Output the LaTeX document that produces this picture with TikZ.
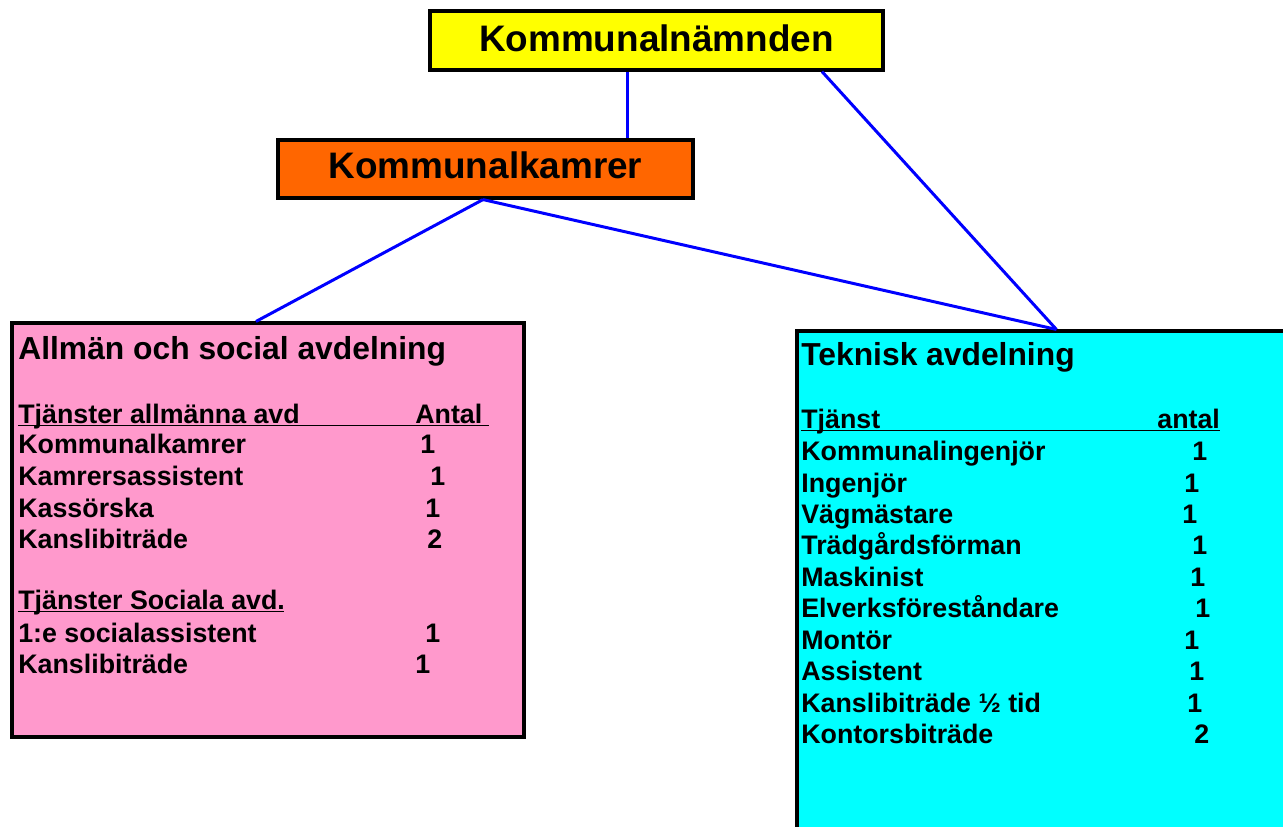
\documentclass[tikz,border=0pt]{standalone}
\usepackage{fontspec}
\setmainfont{Liberation Sans}
\definecolor{Gul}{RGB}{255,255,0}
\definecolor{Orange}{RGB}{255,102,0}
\definecolor{Rosa}{RGB}{255,153,204}
\definecolor{Turkos}{RGB}{0,255,255}
\tikzset{
  box/.style={draw=black, line width=1.8pt, inner sep=0pt},
  link/.style={draw=blue, line width=1.7pt},
  head/.style={font=\bfseries\fontsize{21}{25}\selectfont},
  avd/.style={anchor=base west, inner sep=0pt, font=\bfseries\fontsize{18.1}{22}\selectfont},
  rad/.style={anchor=base west, inner sep=0pt, font=\bfseries\fontsize{15.25}{18}\selectfont},
  understr/.style={line width=1.1pt}
}

\begin{document}
\begin{tikzpicture}[x=0.02cm, y=-0.02cm]
\clip (0,0) rectangle (1283,827);
%\node {\includegraphics{organisation.png}};
% boxes
\node[box, head, fill=Gul, minimum width=9.06cm, minimum height=1.18cm, text depth=0.08cm] (nmd) at (656.5,40.5) {Kommunalnämnden};
\node[box, head, fill=Orange, minimum width=8.3cm, minimum height=1.16cm, text depth=0.17cm] (kam) at (485.5,169) {Kommunalkamrer};
\node[box, fill=Rosa, minimum width=10.24cm, minimum height=8.28cm] (all) at (268,530) {};
\node[box, fill=Turkos, minimum width=11cm, minimum height=11cm] (tek) at (1072,606) {};

% lines
\draw[link] ([xshift=-0.59cm]nmd.south) -- ([xshift=-0.59cm]nmd.south |- kam.north);
\draw[link] ([xshift=3.31cm]nmd.south) -- ([xshift=5.22cm]tek.north west);
\draw[link] ([xshift=-0.05cm]kam.south) -- ([xshift=-0.24cm]all.north);
\draw[link] ([xshift=-0.05cm]kam.south) -- ([xshift=5.22cm]tek.north west);

% allman och social avdelning
\node[avd] (allT) at (18,359) {Allmän och social avdelning};
\node[rad] (allH) at (18,423) {Tjänster allmänna avd};
\node[rad] (allHn) at (415,423) {Antal};
\draw[understr] (18,425.5) -- (489,425.5);
\node[rad] (a1) at (18,453) {Kommunalkamrer};
\node[rad] (a1n) at (420,453) {1};
\node[rad] (a2) at (18,485) {Kamrersassistent};
\node[rad] (a2n) at (430,485) {1};
\node[rad] (a3) at (18,517) {Kassörska};
\node[rad] (a3n) at (425,517) {1};
\node[rad] (a4) at (18,548) {Kanslibiträde};
\node[rad] (a4n) at (427,548) {2};
\node[rad] (socH) at (18,609) {Tjänster Sociala avd.};
\draw[understr] (18,611.5) -- (284,611.5);
\node[rad] (s1) at (18,642) {1:e socialassistent};
\node[rad] (s1n) at (425,642) {1};
\node[rad] (s2) at (18,673) {Kanslibiträde};
\node[rad] (s2n) at (415,673) {1};

% teknisk avdelning
\node[avd] (tekT) at (801,365) {Teknisk avdelning};
\node[rad] (tekH) at (801,428) {Tjänst};
\node[rad] (tekHn) at (1157,428) {antal};
\draw[understr] (801,430.5) -- (1220,430.5);
\node[rad] (t1) at (801,460) {Kommunalingenjör};
\node[rad] (t1n) at (1192,460) {1};
\node[rad] (t2) at (801,492) {Ingenjör};
\node[rad] (t2n) at (1184,492) {1};
\node[rad] (t3) at (801,523) {Vägmästare};
\node[rad] (t3n) at (1182,523) {1};
\node[rad] (t4) at (801,554) {Trädgårdsförman};
\node[rad] (t4n) at (1192,554) {1};
\node[rad] (t5) at (801,586) {Maskinist};
\node[rad] (t5n) at (1190,586) {1};
\node[rad] (t6) at (801,617) {Elverksföreståndare};
\node[rad] (t6n) at (1195,617) {1};
\node[rad] (t7) at (801,649) {Montör};
\node[rad] (t7n) at (1184,649) {1};
\node[rad] (t8) at (801,680) {Assistent};
\node[rad] (t8n) at (1189,680) {1};
\node[rad] (t9) at (801,712) {Kanslibiträde ½ tid};
\node[rad] (t9n) at (1187,712) {1};
\node[rad] (t10) at (801,743) {Kontorsbiträde};
\node[rad] (t10n) at (1194,743) {2};
\end{tikzpicture}
\end{document}
